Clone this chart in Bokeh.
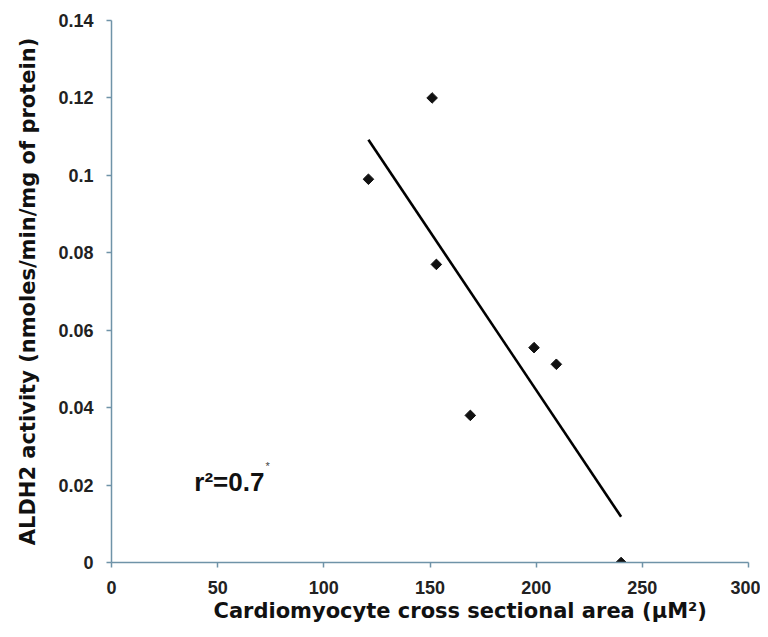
import numpy as np
from bokeh.plotting import figure
from bokeh.models import FixedTicker, Range1d, Label, Title
from bokeh.embed import file_html
from bokeh.resources import INLINE

# data
area = [121, 151, 153, 169, 199, 209.5, 240]
aldh2 = [0.099, 0.120, 0.077, 0.038, 0.0555, 0.0512, 0.0]
x_ticks = [0, 50, 100, 150, 200, 250, 300]
y_ticks = [0, 0.02, 0.04, 0.06, 0.08, 0.10, 0.12, 0.14]
y_tick_labels = ["0", "0.02", "0.04", "0.06", "0.08", "0.1", "0.12", "0.14"]
r2_text = "r\u00b2=0.7"
x_title = "Cardiomyocyte cross sectional area (\u00b5M\u00b2)"
y_title = "ALDH2 activity (nmoles/min/mg of protein)"

AXIS_COLOR = "#6f93a8"

p = figure(width=760, height=629, output_backend="svg", toolbar_location=None,
           x_range=Range1d(0, 300), y_range=Range1d(0, 0.14),
           min_border_left=111, min_border_right=12, min_border_top=20,
           min_border_bottom=67)
p.outline_line_color = None
p.xgrid.visible = False
p.ygrid.visible = False
p.background_fill_color = "white"

# regression line from the data
slope, intercept = np.polyfit(area, aldh2, 1)
xs = [min(area), max(area)]
ys = [slope * v + intercept for v in xs]
p.line(xs, ys, line_color="black", line_width=2.6)

p.scatter(area, aldh2, marker="square", angle=np.pi / 4, size=7.5,
          fill_color="#111111", line_color="#111111")

for ax in (p.xaxis[0], p.yaxis[0]):
    ax.axis_line_color = AXIS_COLOR
    ax.axis_line_width = 1.5
    ax.major_tick_line_color = AXIS_COLOR
    ax.major_tick_line_width = 1.5
    ax.major_tick_out = 5
    ax.major_tick_in = 0
    ax.minor_tick_line_color = None
    ax.major_label_text_font = "Liberation Sans"
    ax.major_label_text_font_style = "bold"
    ax.major_label_text_font_size = "18px"
    ax.major_label_text_color = "#222222"
    ax.axis_label_text_font = "DejaVu Sans"
    ax.axis_label_text_font_style = "bold"
    ax.axis_label_text_color = "#111111"

p.xaxis.ticker = FixedTicker(ticks=x_ticks)
p.yaxis.ticker = FixedTicker(ticks=y_ticks)
p.yaxis.major_label_overrides = {t: s for t, s in zip(y_ticks, y_tick_labels)}

p.xaxis.major_label_standoff = 13

p.yaxis.axis_label = y_title
p.yaxis.axis_label_text_font_size = "21px"
p.yaxis.major_label_standoff = 13
p.yaxis.axis_label_standoff = 15

# x-axis title placed off-centre as in the reference
p.add_layout(Title(text=x_title, align="left", offset=102, standoff=1,
                   text_font="DejaVu Sans", text_font_style="bold",
                   text_font_size="21px", text_color="#111111"), "below")

p.add_layout(Label(x=39, y=0.0207, text=r2_text, text_font="Liberation Sans",
                   text_font_style="bold", text_font_size="26px",
                   text_color="#111111", text_baseline="alphabetic"))
p.add_layout(Label(x=72.5, y=0.0265, text="*", text_font="Liberation Sans",
                   text_font_size="11px", text_color="#444444",
                   text_baseline="top"))

open("out.html", "w").write(file_html(p, INLINE))
